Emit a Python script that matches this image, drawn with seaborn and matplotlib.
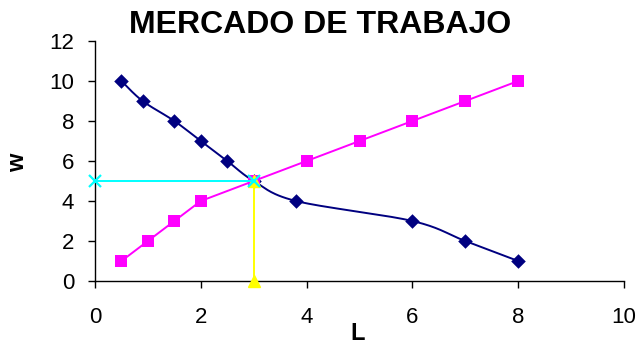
import numpy as np
import pandas as pd
import matplotlib
matplotlib.use("Agg")
import matplotlib.pyplot as plt
import seaborn as sns

# Labour demand (downward) and supply (upward) schedules
demand_L = [0.5, 0.9, 1.5, 2.0, 2.5, 3.0, 3.8, 6.0, 7.0, 8.0]
demand_w = [10, 9, 8, 7, 6, 5, 4, 3, 2, 1]
supply_L = [0.5, 1.0, 1.5, 2.0, 3.0, 4.0, 5.0, 6.0, 7.0, 8.0]
supply_w = [1, 2, 3, 4, 5, 6, 7, 8, 9, 10]
# Equilibrium guide lines
wage_guide_L = [0, 3]
wage_guide_w = [5, 5]
emp_guide_L = [3, 3]
emp_guide_w = [5, 0]

title = "MERCADO DE TRABAJO"
xticks = [0, 2, 4, 6, 8, 10]
yticks = [0, 2, 4, 6, 8, 10, 12]

NAVY = "#000080"
MAGENTA = "#FF00FF"
CYAN = "#00FFFF"
YELLOW = "#FFFF00"


def smooth_curve(xs, ys, n=30):
    """Bezier smoothing through the points (Catmull-Rom style control points)."""
    p = np.column_stack([xs, ys]).astype(float)
    pts = np.vstack([p[0], p, p[-1]])
    out = []
    t = np.linspace(0, 1, n)[:, None]
    for i in range(1, len(pts) - 2):
        p0, p1, p2, p3 = pts[i - 1], pts[i], pts[i + 1], pts[i + 2]
        c1 = p1 + (p2 - p0) / 6.0
        c2 = p2 - (p3 - p1) / 6.0
        seg = ((1 - t) ** 3) * p1 + 3 * ((1 - t) ** 2) * t * c1 + 3 * (1 - t) * t ** 2 * c2 + t ** 3 * p2
        out.append(seg if i == 1 else seg[1:])
    return np.vstack(out)


sns.set_style("ticks")
plt.rcParams["font.family"] = ["Liberation Sans", "DejaVu Sans"]
plt.rcParams["text.color"] = "black"
plt.rcParams["axes.labelcolor"] = "black"
plt.rcParams["xtick.color"] = "black"
plt.rcParams["ytick.color"] = "black"
plt.rcParams["axes.edgecolor"] = "black"

fig = plt.figure(figsize=(6.41, 3.45), dpi=100)
ax = fig.add_axes([95 / 641, 1 - 281 / 345, (624 - 95) / 641, 240 / 345])

curve = smooth_curve(demand_L, demand_w)
curve_df = pd.DataFrame({"L": curve[:, 0], "w": curve[:, 1]})
sns.lineplot(data=curve_df, x="L", y="w", sort=False, color=NAVY, lw=1.4, ax=ax)
sns.scatterplot(x=demand_L, y=demand_w, marker="D", s=55, color=NAVY,
                edgecolor=NAVY, linewidth=0, ax=ax, zorder=3)

sns.lineplot(x=supply_L, y=supply_w, sort=False, color=MAGENTA, lw=1.4, ax=ax)
sns.scatterplot(x=supply_L, y=supply_w, marker="s", s=75, color=MAGENTA,
                edgecolor=MAGENTA, linewidth=0, ax=ax, zorder=3)

ax.plot(emp_guide_L, emp_guide_w, color=YELLOW, lw=1.4, marker="^", ms=9,
        mec=YELLOW, mfc=YELLOW, clip_on=False, zorder=4)
ax.plot(wage_guide_L, wage_guide_w, color=CYAN, lw=1.4, marker="x", ms=8,
        mew=1.6, mec=CYAN, clip_on=False, zorder=5)

ax.set_xlim(0, 10)
ax.set_ylim(0, 12)
ax.set_xticks(xticks)
ax.set_yticks(yticks)
ax.tick_params(axis="both", direction="out", length=5, width=1, labelsize=16,
               colors="black", labelcolor="black")
ax.tick_params(axis="x", pad=14)
ax.tick_params(axis="y", pad=10)
ax.set_xlabel("")
ax.set_ylabel("")
sns.despine(ax=ax)
for side in ("left", "bottom"):
    ax.spines[side].set_color("black")
    ax.spines[side].set_linewidth(1)

fig.text(320 / 641, 1 - 25 / 345, title, ha="center", va="center",
         fontsize=23, fontweight="bold", color="black")
fig.text(358 / 641, 1 - 334 / 345, "L", ha="center", va="center",
         fontsize=17, fontweight="bold", color="black")
fig.text(18 / 641, 1 - 163 / 345, "w", ha="center", va="center",
         fontsize=17, fontweight="bold", rotation=90, color="black")

fig.savefig("out.png", dpi=100)
